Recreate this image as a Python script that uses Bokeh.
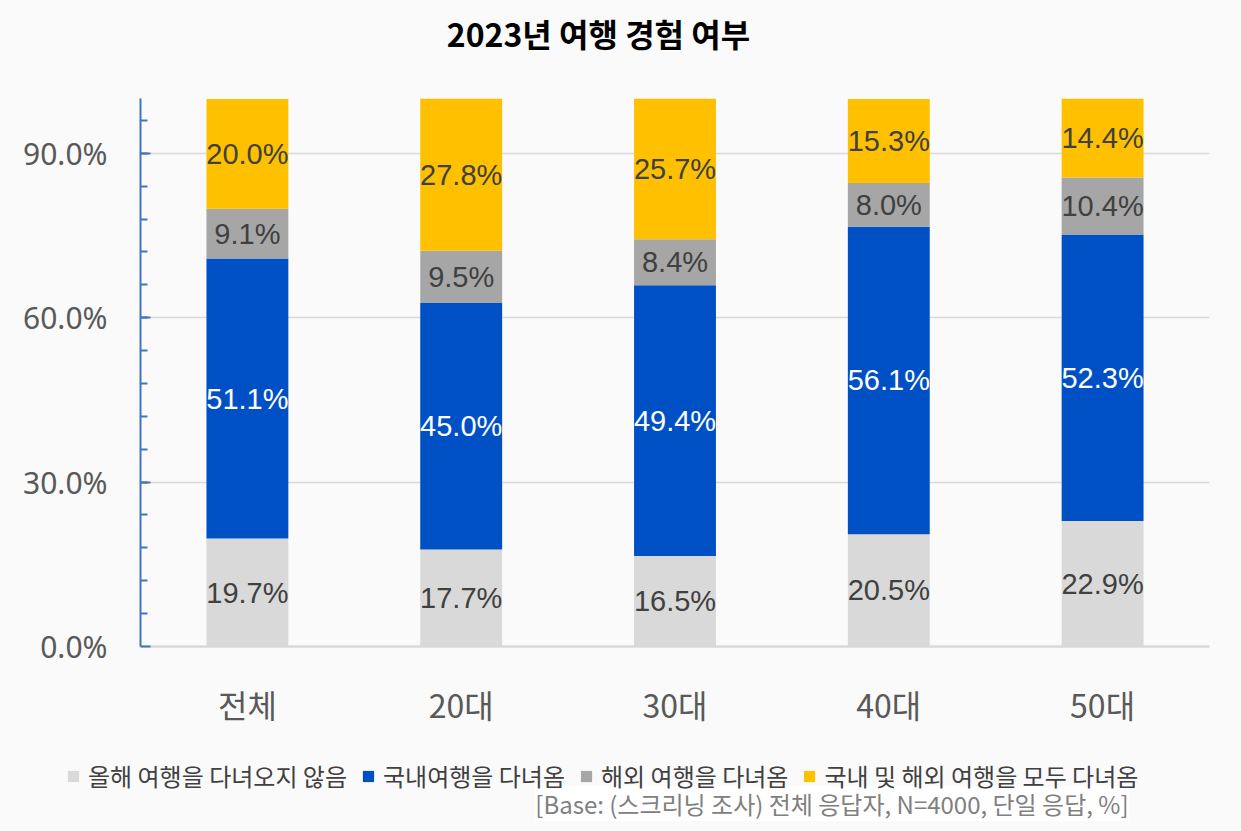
from bokeh.plotting import figure
from bokeh.layouts import column
from bokeh.models import (ColumnDataSource, FactorRange, Range1d, FixedTicker,
                          CustomJSTickFormatter, Legend, LegendItem, Label)
from bokeh.core.properties import value
from bokeh.embed import file_html
from bokeh.resources import INLINE

# Survey data (% of respondents)
categories = ["전체", "20대", "30대", "40대", "50대"]
series_names = ["올해 여행을 다녀오지 않음", "국내여행을 다녀옴", "해외 여행을 다녀옴",
                "국내 및 해외 여행을 모두 다녀옴"]
not_traveled = [19.7, 17.7, 16.5, 20.5, 22.9]
domestic = [51.1, 45.0, 49.4, 56.1, 52.3]
overseas = [9.1, 9.5, 8.4, 8.0, 10.4]
both = [20.0, 27.8, 25.7, 15.3, 14.4]
y_ticks = [0, 30, 60, 90]
title_text = "2023년 여행 경험 여부"
note_text = "[Base: (스크리닝 조사) 전체 응답자, N=4000, 단일 응답, %]"

colors = ["#d9d9d9", "#0050c5", "#a6a6a6", "#ffc000"]
label_colors = ["#404040", "#ffffff", "#404040", "#404040"]
keys = ["s0", "s1", "s2", "s3"]
series = [not_traveled, domestic, overseas, both]

BG = "#fafafa"
KR = "Noto Sans CJK KR"
W = 1241
HEAD_H = 60
MAIN_H = 685
FOOT_H = 831 - HEAD_H - MAIN_H


def strip(height):
    """A bare figure used as a pixel-addressed text strip."""
    s = figure(width=W, height=height, x_range=Range1d(0, W), y_range=Range1d(0, height),
               output_backend="svg", toolbar_location=None, min_border=0)
    s.frame_align = False
    s.background_fill_color = BG
    s.border_fill_color = BG
    s.outline_line_color = None
    s.axis.visible = False
    s.grid.visible = False
    return s


# header strip with the title
h = strip(HEAD_H)
h.add_layout(Label(x=598, y=28, text=title_text, text_align="center",
                   text_baseline="middle", text_font=KR, text_font_style="bold",
                   text_font_size="32px", text_color="#000000"))

src = ColumnDataSource(dict(cat=categories, s0=not_traveled, s1=domestic,
                            s2=overseas, s3=both))

p = figure(width=W, height=MAIN_H, x_range=FactorRange(*categories, range_padding=0),
           y_range=Range1d(0, 100), output_backend="svg", toolbar_location=None,
           min_border_left=140, min_border_right=32, min_border_top=98 - HEAD_H,
           min_border_bottom=MAIN_H - (646 - HEAD_H))
p.frame_align = False
p.background_fill_color = BG
p.border_fill_color = BG
p.outline_line_color = None

renderers = p.vbar_stack(keys, x="cat", width=0.383, color=colors, line_color=None,
                         source=src)

# value labels centred in each segment
lx, ly, lt, lc = [], [], [], []
for i, c in enumerate(categories):
    base = 0.0
    for k, s in enumerate(series):
        v = s[i]
        lx.append(c)
        ly.append(base + v / 2)
        lt.append(f"{v:.1f}%")
        lc.append(label_colors[k])
        base += v
p.text(x=lx, y=ly, text=lt, text_color=lc, text_align="center",
       text_baseline="middle", text_font=value("Liberation Sans"),
       text_font_size="29px")

# y axis
p.yaxis.ticker = FixedTicker(ticks=y_ticks, minor_ticks=list(range(6, 100, 6)))
p.yaxis.formatter = CustomJSTickFormatter(code="return tick.toFixed(1) + '%';")
p.yaxis.axis_line_color = "#4472c4"
p.yaxis.axis_line_width = 2
p.yaxis.major_tick_line_color = "#4472c4"
p.yaxis.major_tick_line_width = 2
p.yaxis.major_tick_in = 10
p.yaxis.major_tick_out = 0
p.yaxis.minor_tick_line_color = "#4472c4"
p.yaxis.minor_tick_line_width = 2
p.yaxis.minor_tick_in = 7
p.yaxis.minor_tick_out = 0
p.yaxis.major_label_standoff = 33
p.yaxis.major_label_text_font = "Noto Sans"
p.yaxis.major_label_text_font_size = "30px"
p.yaxis.major_label_text_color = "#595959"

p.ygrid.ticker = FixedTicker(ticks=[30, 60, 90])
p.ygrid.grid_line_color = "#d9d9d9"
p.ygrid.grid_line_width = 1.5
p.xgrid.grid_line_color = None

# x axis
p.xaxis.axis_line_color = "#d9d9d9"
p.xaxis.axis_line_width = 2.5
p.xaxis.major_tick_line_color = None
p.xaxis.minor_tick_line_color = None
p.xaxis.major_label_standoff = 28
p.xaxis.major_label_text_font = KR
p.xaxis.major_label_text_font_size = "32px"
p.xaxis.major_label_text_color = "#595959"

# footer strip: legend and base note
f = strip(FOOT_H)

# zero-height proxies (off screen) carry the series colours into the legend
proxies = [f.vbar(x=[-1000], top=[0], bottom=[0], width=1, color=c, line_color=None)
           for c in colors]
items = [LegendItem(label=n, renderers=[r]) for n, r in zip(series_names, proxies)]
legend = Legend(items=items, orientation="horizontal", location=(66, 38),
                glyph_width=14, glyph_height=14, label_standoff=8, spacing=14,
                padding=0, margin=0, border_line_color=None,
                background_fill_alpha=0, label_text_font=KR,
                label_text_font_size="24px", label_text_color="#404040",
                label_height=24)
f.add_layout(legend, "center")

f.add_layout(Label(x=1128, y=28, text=note_text, text_align="right",
                   text_baseline="middle", text_font=KR, text_font_size="24px",
                   text_color="#808080", background_fill_color="#ffffff"))

layout = column(h, p, f, spacing=0, styles={"background-color": BG})
open("out.html", "w").write(file_html(layout, INLINE))
